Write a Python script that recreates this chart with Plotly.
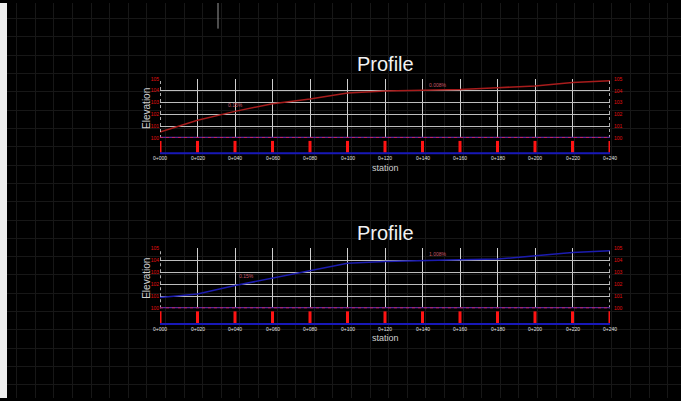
import plotly.graph_objects as go

# ---- data ----
stations = [0, 20, 40, 60, 80, 100, 120, 140, 160, 180, 200, 220, 240]
station_labels = ["0+000", "0+020", "0+040", "0+060", "0+080", "0+100", "0+120",
                  "0+140", "0+160", "0+180", "0+200", "0+220", "0+240"]
elev_top = [100.5, 101.5, 102.25, 102.9, 103.3, 103.8, 103.97, 104.05, 104.1,
            104.25, 104.4, 104.7, 104.83]
elev_bottom = [100.9, 101.2, 101.9, 102.5, 103.1, 103.75, 103.9, 104.0, 104.05,
               104.1, 104.4, 104.65, 104.8]
elev_ticks = [100, 101, 102, 103, 104, 105]
elev_tick_labels = ["100", "101", "102", "103", "104", "105"]
grade_top = [("0.15%", 40, 102.8), ("0.008%", 148, 104.5)]
grade_bottom = [("0.15%", 46, 102.7), ("1.008%", 148, 104.5)]

W, H = 681, 401
FONT = "Liberation Sans, Arial, sans-serif"

fig = go.Figure()

# background CAD grid (axis x/y spanning the whole page)
fig.add_trace(go.Scatter(x=[None], y=[None], xaxis="x", yaxis="y",
                         showlegend=False, hoverinfo="skip"))

panels = [
    dict(xa="x2", ya="y2", elev=elev_top, color="#a81c1c",
         ydom=[1 - 137 / H, 1 - 77 / H], grades=grade_top),
    dict(xa="x3", ya="y3", elev=elev_bottom, color="#1c1cb0",
         ydom=[1 - 310 / H, 1 - 249 / H], grades=grade_bottom),
]

xdom = [160 / W, 610 / W]
layout_axes = {}
shapes = []
annotations = []

layout_axes["xaxis"] = dict(domain=[0, 1], range=[0, W], tick0=16.7, dtick=18.6,
                            showgrid=True, gridcolor="#171717", gridwidth=1,
                            zeroline=False, showticklabels=False, fixedrange=True)
layout_axes["yaxis"] = dict(domain=[0, 1], range=[H, 0], tick0=201.7, dtick=18.6,
                            showgrid=True, gridcolor="#171717", gridwidth=1,
                            zeroline=False, showticklabels=False, fixedrange=True)

for i, p in enumerate(panels):
    n = i + 2
    xa, ya = p["xa"], p["ya"]
    fig.add_trace(go.Scatter(x=stations, y=p["elev"], mode="lines",
                             line=dict(color=p["color"], width=1.5),
                             xaxis=xa, yaxis=ya, showlegend=False,
                             hoverinfo="skip"))
    layout_axes[f"xaxis{n}"] = dict(domain=xdom, range=[0, 240], anchor=ya,
                                   tickvals=stations, showticklabels=False,
                                   showgrid=True, gridcolor="#cfcfcf", gridwidth=1,
                                   zeroline=False, ticks="", showline=False)
    layout_axes[f"yaxis{n}"] = dict(domain=p["ydom"], range=[100, 105], anchor=xa,
                                   tickvals=elev_ticks, ticktext=elev_tick_labels,
                                   tickfont=dict(size=5, color="#e01010", family=FONT),
                                   showgrid=True, gridcolor="#bdbdbd", gridwidth=1,
                                   zeroline=False, ticks="", showline=False)
    for v, t in zip(elev_ticks, elev_tick_labels):
        annotations.append(dict(x=1.005, y=v, xref=f"{xa} domain", yref=ya,
                                text=t, showarrow=False, xanchor="left",
                                font=dict(size=5, color="#e01010", family=FONT)))
    for s in (stations[0], stations[-1]):
        shapes.append(dict(type="line", xref=xa, yref=f"{ya} domain",
                           x0=s, x1=s, y0=0, y1=1,
                           line=dict(color="#e8e8e8", width=1.5, dash="dot")))
    # datum line: purple base with red dots
    shapes.append(dict(type="line", xref=f"{xa} domain", yref=ya,
                       x0=0, x1=1, y0=elev_ticks[0], y1=elev_ticks[0],
                       line=dict(color="#5a2a9a", width=2.5)))
    shapes.append(dict(type="line", xref=f"{xa} domain", yref=ya,
                       x0=0, x1=1, y0=elev_ticks[0], y1=elev_ticks[0],
                       line=dict(color="#e02050", width=1.5, dash="dot")))
    for s in stations:
        shapes.append(dict(type="line", xref=xa, yref=f"{ya} domain",
                           x0=s, x1=s, y0=-0.05, y1=-0.25,
                           line=dict(color="#ff1414", width=3)))
    shapes.append(dict(type="line", xref=xa, yref=f"{ya} domain",
                       x0=stations[0] - 3, x1=stations[-1] + 3, y0=-0.26, y1=-0.26,
                       line=dict(color="#1818b8", width=2)))
    for s, t in zip(stations, station_labels):
        annotations.append(dict(x=s, y=-0.34, xref=xa, yref=f"{ya} domain",
                                text=t, showarrow=False, yanchor="middle",
                                font=dict(size=5, color="#e0e0e0", family=FONT)))
    annotations.append(dict(x=0.5, y=-0.5, xref=f"{xa} domain", yref=f"{ya} domain",
                            text="station", showarrow=False, yanchor="middle",
                            font=dict(size=9, color="#d0d0d0", family=FONT)))
    annotations.append(dict(x=-0.03, y=0.5, xref=f"{xa} domain", yref=f"{ya} domain",
                            text="Elevation", showarrow=False, textangle=-90,
                            xanchor="center", yanchor="middle",
                            font=dict(size=10, color="#cfcfcf", family=FONT)))
    annotations.append(dict(x=0.5, y=1, xref=f"{xa} domain", yref=f"{ya} domain",
                            yshift=15, text="Profile", showarrow=False,
                            xanchor="center", yanchor="middle",
                            font=dict(size=20, color="#f2f2f2", family=FONT)))
    for t, gx, gy in p["grades"]:
        annotations.append(dict(x=gx, y=gy, xref=xa, yref=ya, text=t,
                                showarrow=False,
                                font=dict(size=5, color="#c85868", family=FONT)))

shapes.append(dict(type="rect", xref="paper", yref="paper", x0=0, x1=7 / W,
                   y0=0, y1=1, fillcolor="#efefef", line=dict(width=0), layer="above"))
shapes.append(dict(type="line", xref="paper", yref="paper", x0=218 / W, x1=218 / W,
                   y0=1, y1=1 - 26 / H, line=dict(color="#9a9a9a", width=1)))

fig.update_layout(
    width=W, height=H,
    margin=dict(l=0, r=0, t=0, b=0),
    paper_bgcolor="#000000", plot_bgcolor="rgba(0,0,0,0)",
    showlegend=False,
    shapes=shapes, annotations=annotations,
    font=dict(family=FONT),
    **layout_axes,
)

fig.write_html(
    "out.html",
    config={"displayModeBar": False},
    post_script="document.body.style.margin='0';document.body.style.overflow='hidden';"
                "document.body.style.background='#000';",
)
